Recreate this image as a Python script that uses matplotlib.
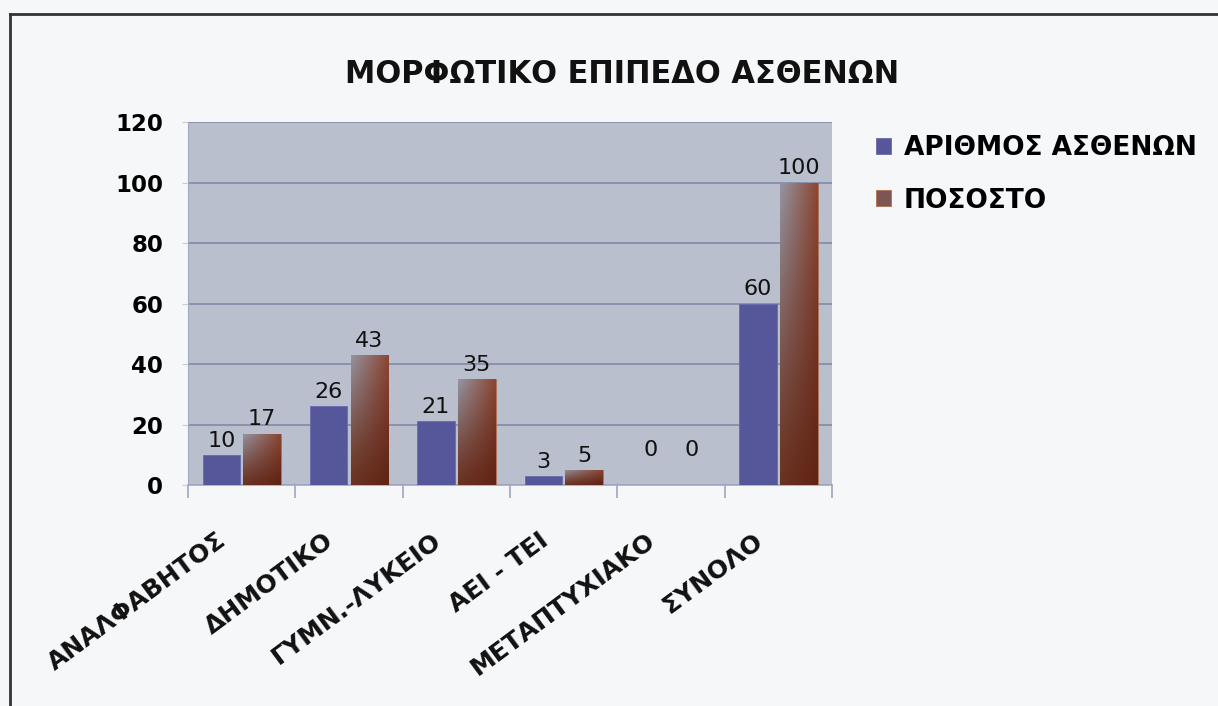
import numpy as np
import matplotlib.pyplot as plt
from matplotlib.lines import Line2D
from matplotlib.transforms import ScaledTranslation

# δεδομένα
categories = ['ΑΝΑΛΦΑΒΗΤΟΣ', 'ΔΗΜΟΤΙΚΟ', 'ΓΥΜΝ.-ΛΥΚΕΙΟ', 'ΑΕΙ - ΤΕΙ', 'ΜΕΤΑΠΤΥΧΙΑΚΟ', 'ΣΥΝΟΛΟ']
patients = [10, 26, 21, 3, 0, 60]
percent = [17, 43, 35, 5, 0, 100]
series_names = ['ΑΡΙΘΜΟΣ ΑΣΘΕΝΩΝ', 'ΠΟΣΟΣΤΟ']
title = 'ΜΟΡΦΩΤΙΚΟ ΕΠΙΠΕΔΟ ΑΣΘΕΝΩΝ'
y_ticks = [0, 20, 40, 60, 80, 100, 120]

plt.rcParams['font.family'] = ['DejaVu Sans']
plt.rcParams['font.weight'] = 'bold'

fig = plt.figure(figsize=(12.18, 7.06), dpi=100, facecolor='#f6f7f9')
ax = fig.add_axes([0.1544, 0.3130, 0.5287, 0.5142])
ax.set_facecolor('#b9bfcc')

x = np.arange(len(categories))
w = 0.35
off = 0.19

blue_bars = ax.bar(x - off, patients, w, color='#56569a', edgecolor='#6a6aac', linewidth=0.6,
                   zorder=3, label=series_names[0])
red_bars = ax.bar(x + off, percent, w, color='#7d5552', edgecolor='#b07050', linewidth=0.6,
                  zorder=3, label=series_names[1])

# χρωματική διαβάθμιση για τις καφέ μπάρες
ny, nx = 60, 30
u = np.linspace(0, 1, nx)[None, :, None]
v = np.linspace(0, 1, ny)[:, None, None]   # 0 = κάτω, 1 = πάνω
top_l = np.array([0.58, 0.58, 0.63])
top_r = np.array([0.55, 0.28, 0.20])
bot_l = np.array([0.42, 0.20, 0.13])
bot_r = np.array([0.38, 0.14, 0.08])
top = top_l * (1 - u) + top_r * u
bot = bot_l * (1 - u) + bot_r * u
grad = bot * (1 - v ** 1.2) + top * v ** 1.2
for b in red_bars:
    h = b.get_height()
    if h <= 0:
        continue
    x0 = b.get_x()
    im = ax.imshow(grad, origin='lower', aspect='auto', interpolation='bilinear',
                   extent=[x0, x0 + b.get_width(), 0, h], zorder=4)
    im.set_clip_path(b)

# ετικέτες τιμών
for bars, vals in ((blue_bars, patients), (red_bars, percent)):
    for b, val in zip(bars, vals):
        dy = 3 if val > 0 else 18
        ax.annotate(str(val), (b.get_x() + b.get_width() / 2, val), xytext=(0, dy),
                    textcoords='offset points', ha='center', va='bottom',
                    fontsize=16, fontweight='normal', color='#111111', zorder=6)

ax.set_xlim(-0.5, len(categories) - 0.5)
ax.set_ylim(0, 120)
ax.set_yticks(y_ticks)
ax.yaxis.grid(True, color='#818aa6', linewidth=1.2, zorder=1)
ax.set_axisbelow(True)

# ετικέτες κατηγοριών (πλάγιες)
ax.set_xticks(x)
ax.set_xticklabels([])
lab_tr = ax.get_xaxis_transform() + ScaledTranslation(-0.18, -0.53, fig.dpi_scale_trans)
for xi, name in zip(x, categories):
    ax.text(xi, 0, name, transform=lab_tr, rotation=36.5, ha='right', va='center',
            rotation_mode='anchor', fontsize=18, fontweight='bold', color='#111111')

ax.set_xticks(np.arange(len(categories) + 1) - 0.5, minor=True)
ax.tick_params(axis='x', which='major', length=0)
ax.tick_params(axis='x', which='minor', length=9, color='#a0a6c2', width=1.2)
ax.tick_params(axis='y', length=4, color='#c8ccd4', pad=14, labelsize=16.5)
for lab in ax.get_yticklabels():
    lab.set_fontweight('bold')

for s in ('top', 'right'):
    ax.spines[s].set_visible(False)
ax.spines['left'].set_color('#a3a8c4')
ax.spines['bottom'].set_color('#a3a8c4')
ax.spines['bottom'].set_linewidth(1.2)

fig.text(0.511, 0.894, title, ha='center', va='center', fontsize=22, fontweight='bold', color='#111111')

ax.legend(loc='upper left', bbox_to_anchor=(0.7, 0.842), bbox_transform=fig.transFigure,
          frameon=False, handlelength=0.55, handleheight=0.55, handletextpad=0.5,
          labelspacing=1.0, prop={'size': 19, 'weight': 'bold'})

# πλαίσιο
fig.add_artist(Line2D([0.008, 1.0], [0.980, 0.980], transform=fig.transFigure, color='#333333', linewidth=2))
fig.add_artist(Line2D([0.008, 0.008], [0.0, 0.980], transform=fig.transFigure, color='#333333', linewidth=2))

fig.savefig('out.png', dpi=100, facecolor=fig.get_facecolor())
